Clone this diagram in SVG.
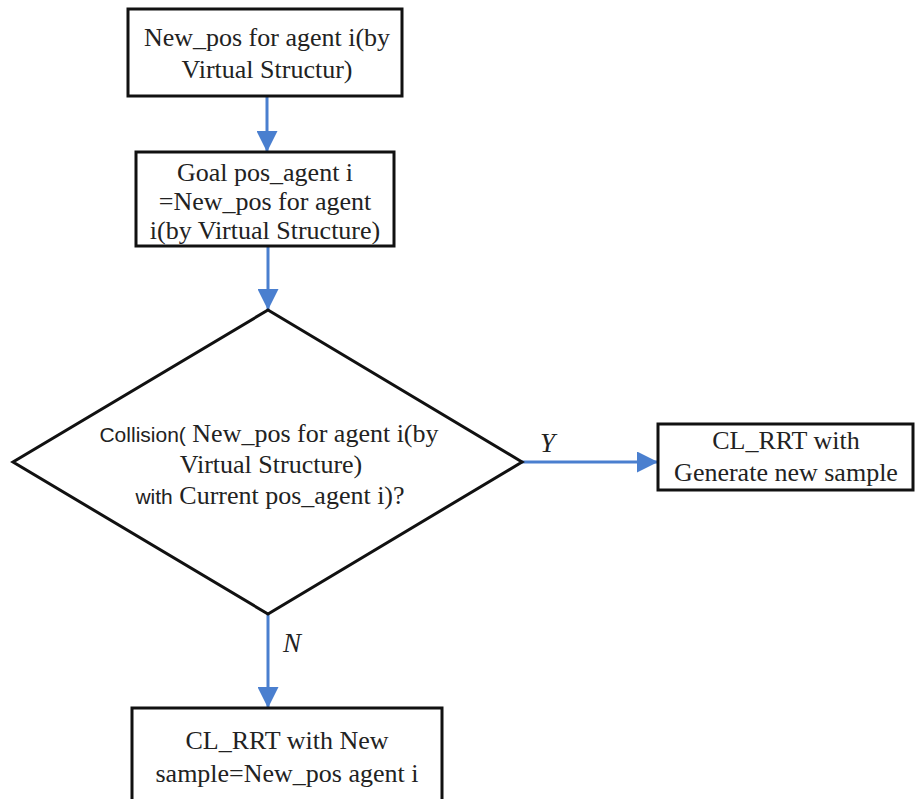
<svg xmlns="http://www.w3.org/2000/svg" width="917" height="799" viewBox="0 0 917 799">
<defs>
<marker id="ah" viewBox="0 0 10 10" refX="10" refY="5" markerWidth="7" markerHeight="7" markerUnits="strokeWidth" orient="auto">
<path d="M0,0 L10,5 L0,10 z" fill="#4a7fcf"/>
</marker>
<style>
.box{fill:#fff;stroke:#111;stroke-width:3}
.t{font-size:26px;fill:#222;text-anchor:middle}
.s{font-size:21px}
.lbl{font-size:27px;font-style:italic;fill:#222}
.c{stroke:#4a7fcf;stroke-width:3;fill:none;marker-end:url(#ah)}
</style>
</defs>
<rect width="917" height="799" fill="#fff"/>
<g id="connectors" font-family="'Liberation Serif', 'DejaVu Serif', serif">
<line class="c" x1="267" y1="96" x2="267" y2="152"/>
<line class="c" x1="268" y1="246" x2="268" y2="310"/>
<line class="c" x1="522" y1="462" x2="658" y2="462"/>
<line class="c" x1="268" y1="614" x2="268" y2="708"/>
<text class="lbl" x="540" y="452">Y</text>
<text class="lbl" x="283" y="652">N</text>
</g>
<g id="box1" font-family="'Liberation Serif', 'DejaVu Serif', serif">
<rect class="box" x="128" y="9" width="274" height="87"/>
<text class="t" x="267" y="46">New_pos for agent i(by</text>
<text class="t" x="267" y="78">Virtual Structur)</text>
</g>
<g id="box2" font-family="'Liberation Serif', 'DejaVu Serif', serif">
<rect class="box" x="136" y="152" width="258" height="94"/>
<text class="t" x="265" y="181">Goal pos_agent i</text>
<text class="t" x="265" y="210">=New_pos for agent</text>
<text class="t" x="265" y="239">i(by Virtual Structure)</text>
</g>
<g id="decision" font-family="'Liberation Serif', 'DejaVu Serif', serif">
<polygon class="box" points="268,310 522,462 268,614 13,462"/>
<text class="t" x="269" y="442"><tspan class="s" font-family="'Liberation Sans', Arial, sans-serif">Collision(</tspan> New_pos for agent i(by</text>
<text class="t" x="271" y="473">Virtual Structure)</text>
<text class="t" x="270" y="504"><tspan class="s" font-family="'Liberation Sans', Arial, sans-serif">with</tspan> Current pos_agent i)?</text>
</g>
<g id="box3" font-family="'Liberation Serif', 'DejaVu Serif', serif">
<rect class="box" x="658" y="424" width="255" height="66"/>
<text class="t" x="786" y="449">CL_RRT with</text>
<text class="t" x="786" y="481">Generate new sample</text>
</g>
<g id="box4" font-family="'Liberation Serif', 'DejaVu Serif', serif">
<rect class="box" x="132" y="708" width="310" height="100"/>
<text class="t" x="287" y="749">CL_RRT with New</text>
<text class="t" x="287" y="782">sample=New_pos agent i</text>
</g>
</svg>
